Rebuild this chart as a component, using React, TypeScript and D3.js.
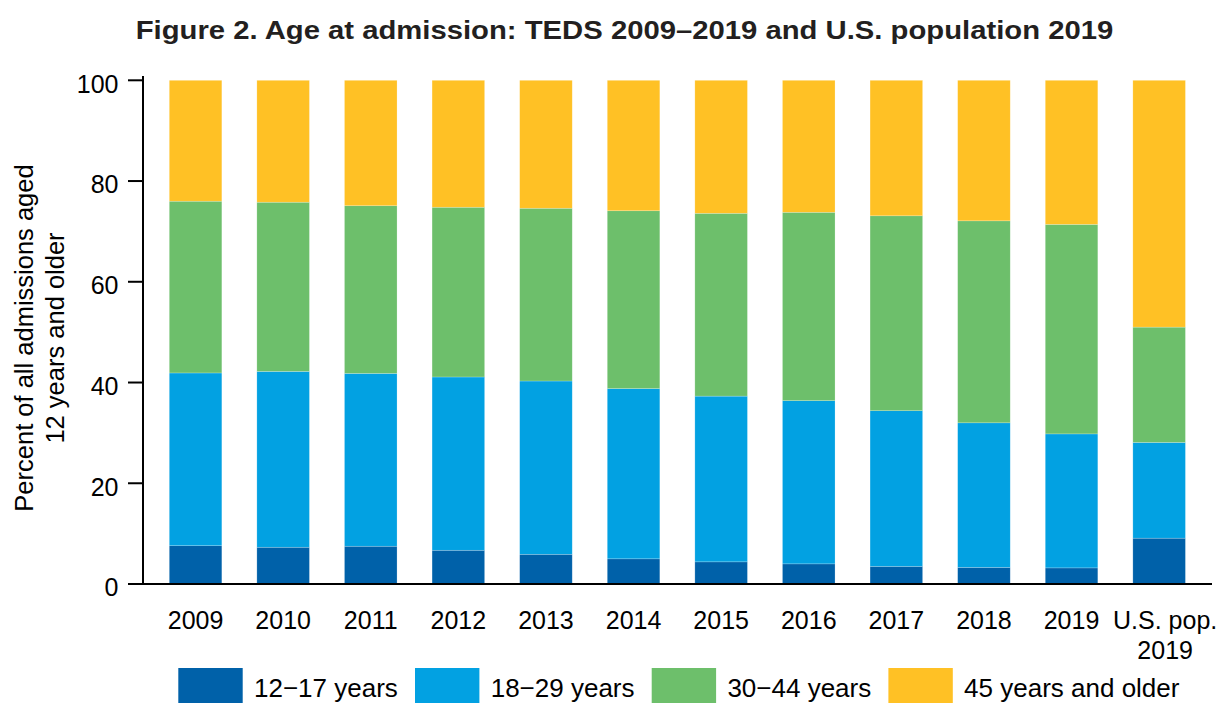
import React from "react";
import * as d3 from "d3";

const categories = ["2009", "2010", "2011", "2012", "2013", "2014", "2015", "2016", "2017", "2018", "2019", "U.S. pop.\n2019"];
const seriesNames = ["12\u221217 years", "18\u221229 years", "30\u221244 years", "45 years and older"];
const age12to17 = [7.6, 7.3, 7.5, 6.7, 5.9, 5.0, 4.4, 4.0, 3.5, 3.3, 3.2, 9.1];
const age18to29 = [34.3, 34.9, 34.3, 34.4, 34.4, 33.8, 32.9, 32.4, 30.9, 28.7, 26.6, 19.0];
const age30to44 = [34.1, 33.6, 33.3, 33.7, 34.3, 35.3, 36.3, 37.4, 38.7, 40.1, 41.6, 22.9];
const age45plus = [24.0, 24.2, 24.9, 25.2, 25.4, 25.9, 26.4, 26.2, 26.9, 27.9, 28.6, 49.0];
const yTicks = [0, 20, 40, 60, 80, 100];
const colors = ["#0061A9", "#02A1E2", "#6DBF6B", "#FFC125"];

const W = 1220;
const H = 703;
const FONT = "'Liberation Sans', Arial, sans-serif";

export default function App() {
  const rows = categories.map((c, i) => ({
    cat: c,
    s0: age12to17[i],
    s1: age18to29[i],
    s2: age30to44[i],
    s3: age45plus[i],
  }));
  const stack = d3.stack<any>().keys(["s0", "s1", "s2", "s3"]);
  const layers = stack(rows);

  const x = d3
    .scaleBand<string>()
    .domain(categories)
    .range([143, 1211.7])
    .paddingInner(0.4)
    .paddingOuter(0.3);
  const y = d3.scaleLinear().domain([0, 100]).range([584, 80.3]);

  const legendX = d3.scaleLinear().domain([0, 1]).range([178.3, 415]);

  return (
    <svg
      width={W}
      height={H}
      style={{ position: "absolute", left: 0, top: 0, background: "#fff" }}
      fontFamily={FONT}
    >
      <text
        x={135.7}
        y={39}
        fontWeight="bold"
        fontSize={26}
        fill="#231F20"
        textLength={977.6}
        lengthAdjust="spacingAndGlyphs"
      >
        Figure 2. Age at admission: TEDS 2009–2019 and U.S. population 2019
      </text>

      {layers.map((layer, li) => (
        <g key={li} fill={colors[li]}>
          {layer.map((d, i) => (
            <rect
              key={i}
              x={x(categories[i])!}
              width={x.bandwidth()}
              y={y(d[1])}
              height={y(d[0]) - y(d[1])}
              stroke="#ffffff"
              strokeOpacity={0.35}
              strokeWidth={0.6}
            />
          ))}
        </g>
      ))}

      {/* y axis */}
      <line x1={143} x2={143} y1={76} y2={585} stroke="#000" strokeWidth={2} />
      {yTicks.map((t) => (
        <g key={t}>
          <line x1={128} x2={143} y1={y(t)} y2={y(t)} stroke="#000" strokeWidth={2} />
          <text x={118.5} y={y(t) + 12.4} textAnchor="end" fontSize={25} fill="#000">
            {t}
          </text>
        </g>
      ))}
      {/* x axis */}
      <line x1={142} x2={1212} y1={584} y2={584} stroke="#000" strokeWidth={2} />
      {categories.map((c) => {
        const lines = c.split("\n");
        const cx = x(c)! + x.bandwidth() / 2 + (lines.length > 1 ? 6 : 0);
        return (
          <text key={c} x={cx} y={629.3} textAnchor="middle" fontSize={25} fill="#000">
            {lines.map((l, k) => (
              <tspan key={k} x={cx} dy={k === 0 ? 0 : 30}>
                {l}
              </tspan>
            ))}
          </text>
        );
      })}

      {/* y label */}
      <text transform="translate(33.3,338) rotate(-90)" textAnchor="middle" fontSize={25.5} fill="#000">
        <tspan x={0} dy={0}>Percent of all admissions aged</tspan>
        <tspan x={0} dy={30.7}>12 years and older</tspan>
      </text>

      {/* legend */}
      {seriesNames.map((s, i) => (
        <g key={s} transform={`translate(${legendX(i)},668)`}>
          <rect x={0} y={0} width={64.4} height={40} fill={colors[i]} />
          <text x={75.7} y={28.7} fontSize={26} fill="#000">
            {s}
          </text>
        </g>
      ))}
    </svg>
  );
}
